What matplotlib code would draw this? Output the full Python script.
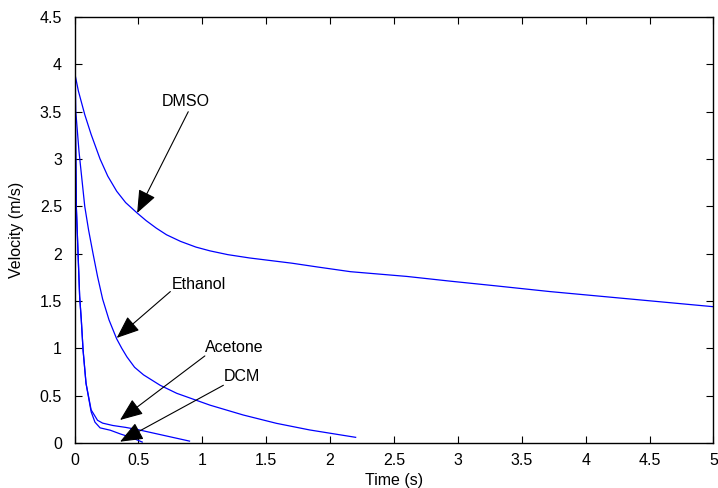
import numpy as np
import matplotlib
matplotlib.use('Agg')
from matplotlib import pyplot as plt

plt.rcParams['font.family'] = ['Liberation Sans', 'DejaVu Sans']

# ---------------- data ----------------
dmso_t = [0, 0.003, 0.03, 0.08, 0.13, 0.2, 0.26, 0.33, 0.4, 0.49, 0.56, 0.64,
          0.72, 0.83, 0.95, 1.06, 1.2, 1.37, 1.55, 1.7, 1.9, 2.16, 2.6, 2.94,
          3.3, 3.72, 4.2, 4.6, 5.0]
dmso_v = [4.25, 3.9, 3.72, 3.47, 3.26, 3.0, 2.82, 2.66, 2.54, 2.43, 2.35, 2.27,
          2.2, 2.13, 2.07, 2.03, 1.99, 1.955, 1.925, 1.9, 1.86, 1.81, 1.76, 1.71,
          1.66, 1.6, 1.54, 1.49, 1.44]

ethanol_t = [0, 0.01, 0.035, 0.08, 0.11, 0.145, 0.18, 0.22, 0.27, 0.33, 0.37,
             0.41, 0.47, 0.54, 0.67, 0.8, 1.06, 1.32, 1.58, 1.84, 2.2]
ethanol_v = [4.25, 3.5, 3.08, 2.5, 2.25, 2.0, 1.76, 1.52, 1.3, 1.1, 1.0,
             0.91, 0.8, 0.72, 0.61, 0.525, 0.4, 0.296, 0.208, 0.138, 0.06]

acetone_t = [0, 0.014, 0.04, 0.053, 0.067, 0.09, 0.13, 0.18, 0.22, 0.3, 0.4,
             0.5, 0.6, 0.7, 0.8, 0.9]
acetone_v = [4.25, 2.5, 1.55, 1.3, 0.98, 0.63, 0.35, 0.24, 0.21, 0.185, 0.165,
             0.14, 0.11, 0.08, 0.05, 0.02]

dcm_t = [0, 0.014, 0.04, 0.053, 0.067, 0.09, 0.13, 0.16, 0.2, 0.28, 0.36,
         0.44, 0.53]
dcm_v = [4.25, 2.5, 1.55, 1.3, 0.98, 0.63, 0.33, 0.22, 0.16, 0.135, 0.095,
         0.06, 0.01]

# label text, label position, arrow tail, arrow tip
labels = ['DMSO', 'Ethanol', 'Acetone', 'DCM']
label_xy = [(0.68, 3.61), (0.76, 1.67), (1.02, 1.01), (1.165, 0.70)]
tail_xy = [(0.89, 3.50), (0.75, 1.60), (1.02, 0.92), (1.165, 0.61)]
tip_xy = [(0.49, 2.43), (0.33, 1.11), (0.356, 0.243), (0.356, 0.014)]

xticks = [0, 0.5, 1, 1.5, 2, 2.5, 3, 3.5, 4, 4.5, 5]
yticks = [0, 0.5, 1, 1.5, 2, 2.5, 3, 3.5, 4, 4.5]

######################## Draw ########################
fig = plt.figure(figsize=(7.18, 4.88), dpi=100)
ax = fig.add_axes([0.1038, 0.0922, 0.8898, 0.8728])

for t, v in [(dmso_t, dmso_v), (ethanol_t, ethanol_v),
             (acetone_t, acetone_v), (dcm_t, dcm_v)]:
    ax.plot(t, v, color='#0000ff', lw=0.9)

for name, lxy, txy, pxy in zip(labels, label_xy, tail_xy, tip_xy):
    ax.text(lxy[0], lxy[1], name, fontsize=11.5, ha='left', va='center')
    ax.annotate('', xy=pxy, xytext=txy,
                arrowprops=dict(arrowstyle='-|>,head_length=0.95,head_width=0.38',
                                color='k', lw=0.8, mutation_scale=15,
                                shrinkA=0, shrinkB=0))

ax.set_xlim(0, 5)
ax.set_ylim(0, 4.5)
ax.set_xticks(xticks)
ax.set_xticklabels(['%g' % x for x in xticks])
ax.set_yticks(yticks)
ax.set_yticklabels(['%g' % y for y in yticks])
ax.tick_params(direction='in', length=5, width=0.8, top=True, right=True,
               labelsize=11.5)
ax.tick_params(axis='x', pad=7)
ax.tick_params(axis='y', pad=9)
for s in ax.spines.values():
    s.set_linewidth(1.0)

ax.set_xlabel('Time (s)', fontsize=11.5, labelpad=4)
ax.set_ylabel('Velocity (m/s)', fontsize=11.5, labelpad=11)

plt.savefig('out.png', dpi=100)
